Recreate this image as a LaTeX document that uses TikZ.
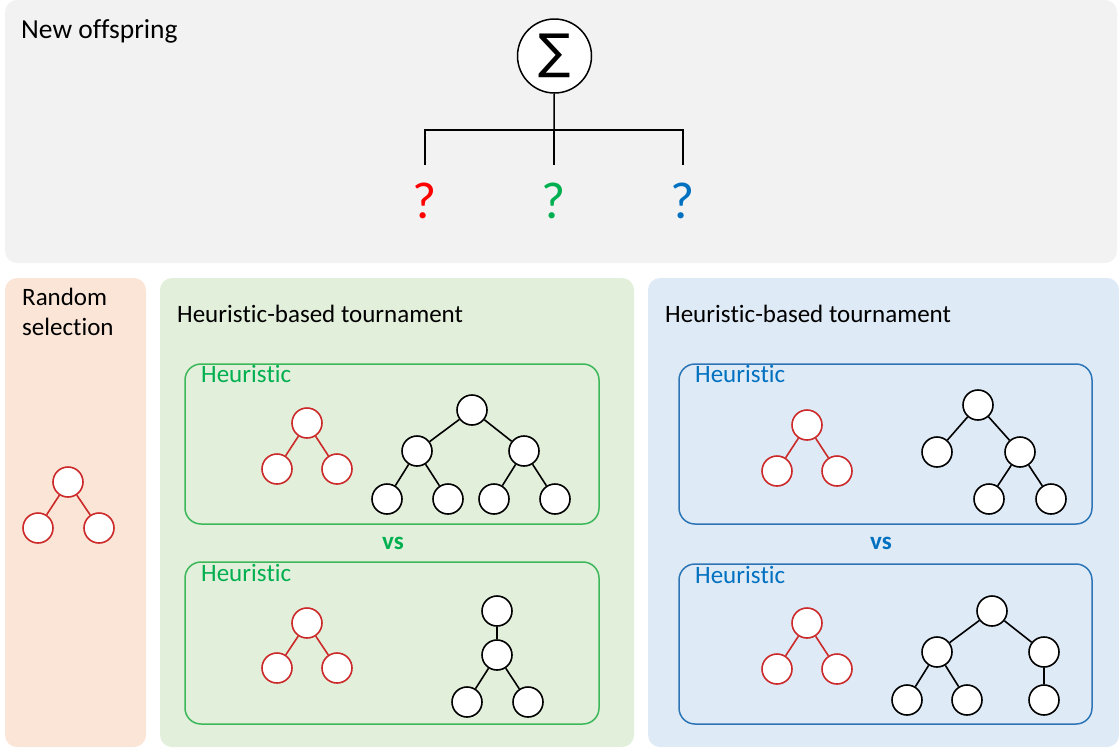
\documentclass[tikz,border=0pt]{standalone}
\usepackage{fontspec}
\setmainfont{Carlito}[Ligatures={NoCommon,NoContextual},Contextuals={NoAlternate}]
\newfontfamily\symfont{DejaVu Sans}
\newcommand{\heur}{Heuris\kern0pt t\kern0pt ic}
\definecolor{greyBg}{HTML}{F2F2F2}
\definecolor{orangeBg}{HTML}{FBE5D6}
\definecolor{greenBg}{HTML}{E2EFDA}
\definecolor{blueBg}{HTML}{DEEBF7}
\definecolor{greenC}{HTML}{00B050}
\definecolor{greenLine}{HTML}{3CB85A}
\definecolor{blueC}{HTML}{0070C0}
\definecolor{blueLine}{HTML}{2E75B6}
\definecolor{treeRed}{HTML}{CC2A2A}
\definecolor{qRed}{HTML}{FF0000}
\begin{document}
\begin{tikzpicture}[x=1pt,y=-1pt,
  rnode/.style={circle,draw=treeRed,line width=1.6pt,fill=white,minimum size=30pt,inner sep=0pt},
  bnode/.style={circle,draw=black,line width=1.6pt,fill=white,minimum size=30pt,inner sep=0pt},
  redge/.style={draw=treeRed,line width=1.6pt},
  bedge/.style={draw=black,line width=1.6pt},
  panel/.style={rounded corners=12pt},
  hbox/.style={rounded corners=16pt,line width=1.5pt},
  lbl/.style={anchor=base west,inner sep=0pt,font=\fontsize{25}{30}\selectfont},
  biglbl/.style={anchor=base west,inner sep=0pt,font=\fontsize{27.5}{32}\selectfont},
  qmark/.style={anchor=base,inner sep=0pt,font=\fontsize{52}{60}\selectfont},
  vslbl/.style={anchor=base,inner sep=0pt,font=\fontsize{25}{30}\selectfont\bfseries}
]
\useasboundingbox (0,0) rectangle (1119,748);
% panels
\fill[greyBg,panel] (5,0) rectangle (1117,263);
\fill[orangeBg,panel] (5,278) rectangle (146,747);
\fill[greenBg,panel] (160,278) rectangle (634,747);
\fill[blueBg,panel] (648,278) rectangle (1119,747);

% top
\node[biglbl] (tNew) at (21,38) {New offspring};
\node[circle,draw=black,line width=1.5pt,fill=white,minimum size=74pt,inner sep=0pt] (sig) at (554.5,56) {};
\node[inner sep=0pt,font=\symfont\fontsize{48}{52}\selectfont] (sigT) at (sig.center) {∑};
\coordinate (jc) at (554,130);
\coordinate (jl) at (425,130);
\coordinate (jr) at (683,130);
\coordinate (el) at (425,165);
\coordinate (ec) at (554,165);
\coordinate (er) at (683,165);
\draw[line width=1.5pt] (sig) -- (jc);
\draw[line width=2pt] (el) -- (jl) -- (jr) -- (er);
\draw[line width=1.5pt] (jc) -- (ec);
\node[qmark,text=qRed] (q1) at (425,218) {?};
\node[qmark,text=greenC] (q2) at (554,218) {?};
\node[qmark,text=blueC] (q3) at (683,218) {?};

% left panel
\node[lbl] (tRand1) at (22,305) {Random};
\node[lbl] (tRand2) at (22,335) {selection};
\node[rnode] (L0) at (68,482) {};
\node[rnode] (L1) at (38,528) {};
\node[rnode] (L2) at (99,528) {};
\draw[redge] (L0) -- (L1) (L0) -- (L2);

% green panel
\node[lbl] (tG) at (177,322) {\heur-based tournament};
\draw[greenLine,hbox] (185,364) rectangle (599,524);
\draw[greenLine,hbox] (185,562) rectangle (599,724);
\node[lbl,text=greenC] (gH1) at (201,382) {\heur};
\node[lbl,text=greenC] (gH2) at (201,581) {\heur};
\node[vslbl,text=greenC] (gvs) at (393,549) {vs};
% green box 1 trees
\node[rnode] (ga0) at (307,423) {};
\node[rnode] (ga1) at (277,469) {};
\node[rnode] (ga2) at (337,469) {};
\draw[redge] (ga0) -- (ga1) (ga0) -- (ga2);
\node[bnode] (gb0) at (472,410) {};
\node[bnode] (gb1) at (417,451) {};
\node[bnode] (gb2) at (524,451) {};
\node[bnode] (gb3) at (387,499) {};
\node[bnode] (gb4) at (448,499) {};
\node[bnode] (gb5) at (494,499) {};
\node[bnode] (gb6) at (555,499) {};
\draw[bedge] (gb0) -- (gb1) (gb0) -- (gb2) (gb1) -- (gb3) (gb1) -- (gb4) (gb2) -- (gb5) (gb2) -- (gb6);
% green box 2 trees
\node[rnode] (gc0) at (307,623) {};
\node[rnode] (gc1) at (277,668) {};
\node[rnode] (gc2) at (337,668) {};
\draw[redge] (gc0) -- (gc1) (gc0) -- (gc2);
\node[bnode] (gd0) at (497,611) {};
\node[bnode] (gd1) at (497,655) {};
\node[bnode] (gd2) at (467,702) {};
\node[bnode] (gd3) at (528,702) {};
\draw[bedge] (gd0) -- (gd1) (gd1) -- (gd2) (gd1) -- (gd3);

% blue panel
\node[lbl] (tB) at (665,322) {\heur-based tournament};
\draw[blueLine,hbox] (679,364) rectangle (1092,524);
\draw[blueLine,hbox] (679,564) rectangle (1092,724);
\node[lbl,text=blueC] (bH1) at (695,382) {\heur};
\node[lbl,text=blueC] (bH2) at (695,583) {\heur};
\node[vslbl,text=blueC] (bvs) at (881,549) {vs};
% blue box 1 trees
\node[rnode] (ba0) at (807,425) {};
\node[rnode] (ba1) at (777,471) {};
\node[rnode] (ba2) at (837,471) {};
\draw[redge] (ba0) -- (ba1) (ba0) -- (ba2);
\node[bnode] (bb0) at (978,405) {};
\node[bnode] (bb1) at (937,452) {};
\node[bnode] (bb2) at (1020,452) {};
\node[bnode] (bb3) at (989,499) {};
\node[bnode] (bb4) at (1051,499) {};
\draw[bedge] (bb0) -- (bb1) (bb0) -- (bb2) (bb2) -- (bb3) (bb2) -- (bb4);
% blue box 2 trees
\node[rnode] (bc0) at (807,623) {};
\node[rnode] (bc1) at (777,669) {};
\node[rnode] (bc2) at (837,669) {};
\draw[redge] (bc0) -- (bc1) (bc0) -- (bc2);
\node[bnode] (bd0) at (992,611) {};
\node[bnode] (bd1) at (937,652) {};
\node[bnode] (bd2) at (1044,652) {};
\node[bnode] (bd3) at (907,700) {};
\node[bnode] (bd4) at (967,700) {};
\node[bnode] (bd5) at (1044,700) {};
\draw[bedge] (bd0) -- (bd1) (bd0) -- (bd2) (bd1) -- (bd3) (bd1) -- (bd4) (bd2) -- (bd5);
\end{tikzpicture}
\end{document}
